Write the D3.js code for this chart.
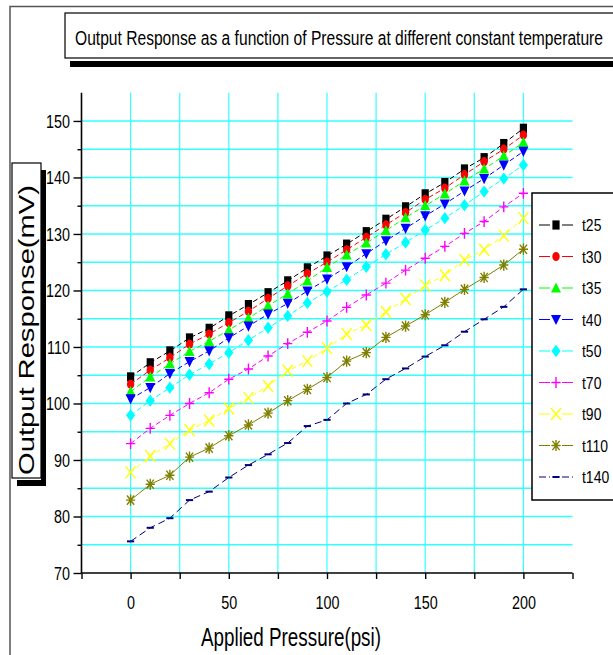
<!DOCTYPE html>
<html>
<head>
<meta charset="utf-8">
<script src="https://cdn.jsdelivr.net/npm/d3@7"></script>
<style>
  body { margin: 0; background: #fff; }
  svg { display: block; }
</style>
</head>
<body>
<div id="chart"></div>
<script>
// Applied pressure (psi)
const pressure = [0, 10, 20, 30, 40, 50, 60, 70, 80, 90, 100, 110, 120, 130, 140, 150, 160, 170, 180, 190, 200];

// Output response (mV) per constant temperature
const seriesNames = ['t25', 't30', 't35', 't40', 't50', 't70', 't90', 't110', 't140'];
const t25  = [104.7, 107.2, 109.3, 111.6, 113.3, 115.5, 117.5, 119.6, 121.7, 124.0, 126.1, 128.2, 130.4, 132.6, 134.8, 137.1, 139.1, 141.5, 143.5, 146.0, 148.7];
const t30  = [103.4, 105.9, 108.1, 110.5, 112.3, 114.3, 116.3, 118.6, 120.8, 123.0, 125.0, 127.2, 129.4, 131.6, 133.8, 136.1, 138.1, 140.5, 142.8, 145.0, 147.5];
const t35  = [102.1, 104.7, 107.0, 109.2, 111.0, 113.0, 115.1, 117.3, 119.4, 121.7, 124.1, 126.3, 128.4, 130.6, 132.9, 135.0, 137.1, 139.4, 141.5, 143.8, 146.2];
const t40  = [100.8, 102.8, 105.3, 107.4, 109.3, 111.6, 113.7, 115.8, 117.7, 119.9, 122.0, 124.2, 126.5, 128.8, 131.0, 133.2, 135.3, 137.6, 139.8, 142.2, 144.6];
const t50  = [97.9, 100.5, 102.8, 105.1, 107.0, 109.0, 111.2, 113.4, 115.5, 117.8, 119.8, 121.9, 124.2, 126.4, 128.5, 130.7, 132.8, 135.1, 137.5, 139.8, 142.2];
const t70  = [92.9, 95.6, 97.9, 100.0, 101.9, 104.3, 106.1, 108.4, 110.6, 112.6, 114.6, 117.0, 119.2, 121.3, 123.6, 125.7, 127.8, 130.1, 132.2, 134.8, 137.2];
const t90  = [87.8, 90.7, 92.9, 95.3, 97.0, 99.1, 101.0, 103.1, 105.8, 107.5, 109.8, 112.3, 113.9, 116.2, 118.5, 120.9, 122.7, 125.4, 127.2, 129.7, 132.8];
const t110 = [82.9, 85.7, 87.3, 90.5, 92.1, 94.3, 96.2, 98.3, 100.5, 102.5, 104.6, 107.5, 109.0, 111.7, 113.7, 115.7, 117.9, 120.2, 122.3, 124.5, 127.3];
const t140 = [75.6, 78.0, 79.7, 82.9, 84.4, 86.9, 89.1, 91.0, 93.0, 96.0, 97.1, 100.0, 101.6, 104.3, 106.2, 108.3, 110.3, 112.7, 114.9, 117.1, 120.2];
const seriesValues = [t25, t30, t35, t40, t50, t70, t90, t110, t140];

// Tick values
const xTickValues = [-25, 0, 25, 50, 75, 100, 125, 150, 175, 200, 225];
const xTickLabels = [0, 50, 100, 150, 200];
const yTickValues = [70, 75, 80, 85, 90, 95, 100, 105, 110, 115, 120, 125, 130, 135, 140, 145, 150];
const yTickLabels = [70, 80, 90, 100, 110, 120, 130, 140, 150];

const title = 'Output Response as a function of Pressure at different constant temperature';
const xTitle = 'Applied Pressure(psi)';
const yTitle = 'Output Response(mV)';

// Style per series (kept apart from the data)
const styles = {
  t25:  { color: '#000000', symbol: 'square',  dash: '5,3' },
  t30:  { color: '#ff0000', symbol: 'circle',  dash: '5,3' },
  t35:  { color: '#00ff00', symbol: 'triUp',   dash: '5,3' },
  t40:  { color: '#0000ff', symbol: 'triDown', dash: '5,3' },
  t50:  { color: '#00ffff', symbol: 'diamond', dash: '5,3' },
  t70:  { color: '#ff00ff', symbol: 'plus',    dash: '5,3' },
  t90:  { color: '#ffff00', symbol: 'cross',   dash: '5,3' },
  t110: { color: '#808000', symbol: 'star',    dash: null },
  t140: { color: '#000080', symbol: 'dash',    dash: '7,4' }
};

const narrow = '"Liberation Sans Narrow", "Arial Narrow", "Liberation Sans", Arial, sans-serif';
const regular = '"Liberation Sans", Arial, sans-serif';

const width = 613, height = 655;
const svg = d3.select('#chart').append('svg')
  .attr('width', width)
  .attr('height', height);

// check whether a narrow face is really there; if not, squeeze the regular one
const probe = svg.append('text').style('font-size', '20px').text('Applied 0123');
const wRegular = probe.style('font-family', regular).node().getComputedTextLength();
const wNarrow = probe.style('font-family', narrow).node().getComputedTextLength();
probe.remove();
const hasNarrow = wNarrow < wRegular * 0.95;

function narrowText(sel) {
  sel.style('font-family', narrow);
  if (!hasNarrow) {
    sel.each(function () {
      const len = this.getComputedTextLength();
      d3.select(this)
        .attr('textLength', len * 0.82)
        .attr('lengthAdjust', 'spacingAndGlyphs');
    });
  }
  return sel;
}

// Outer page frame
svg.append('path')
  .attr('d', 'M10,655V6.5H613')
  .attr('fill', 'none')
  .attr('stroke', '#555')
  .attr('stroke-width', 1.5);

// Scales
const x = d3.scaleLinear().domain([-25, 225]).range([81.5, 572.5]);
const y = d3.scaleLinear().domain([70, 155]).range([573, 92.7]);

// Grid
const grid = svg.append('g');
grid.selectAll('line.h')
  .data(yTickValues.filter(v => v > 70))
  .enter().append('line')
  .attr('class', 'h')
  .attr('x1', x(-25)).attr('x2', x(225))
  .attr('y1', d => y(d)).attr('y2', d => y(d))
  .attr('stroke', '#33ffff')
  .attr('stroke-width', 1.6);
grid.selectAll('line.v')
  .data(xTickValues.filter(v => v > -25 && v < 225))
  .enter().append('line')
  .attr('class', 'v')
  .attr('x1', d => x(d)).attr('x2', d => x(d))
  .attr('y1', y(155)).attr('y2', y(70))
  .attr('stroke', '#33ffff')
  .attr('stroke-width', 1.2);

// Axes
const yAxis = d3.axisLeft(y)
  .tickValues(yTickValues)
  .tickSizeOuter(0)
  .tickSize(0)
  .tickFormat('');
const yAxisG = svg.append('g')
  .attr('transform', `translate(${x(-25)},0)`)
  .call(yAxis);
yAxisG.select('.domain').attr('stroke-width', 1.6)
  .attr('d', `M0,${y(155)}V${y(70)}`);
yAxisG.selectAll('.tick line')
  .attr('x2', d => (d % 10 === 0 ? -8 : -4))
  .attr('stroke-width', 1.4);
yAxisG.selectAll('.tick')
  .filter(d => yTickLabels.includes(d))
  .append('text')
  .attr('x', -11.5)
  .attr('dy', '0.36em')
  .attr('text-anchor', 'end')
  .attr('fill', '#000')
  .style('font-size', '17.5px')
  .text(d => d)
  .call(narrowText);

const xAxis = d3.axisBottom(x)
  .tickValues(xTickValues)
  .tickSizeOuter(0)
  .tickSize(6)
  .tickFormat('');
const xAxisG = svg.append('g')
  .attr('transform', `translate(0,${y(70)})`)
  .call(xAxis);
xAxisG.select('.domain').attr('stroke-width', 1.6)
  .attr('d', `M${x(-25)},0H${x(225)}`);
xAxisG.selectAll('.tick line').attr('stroke-width', 1.4);
xAxisG.selectAll('.tick')
  .filter(d => xTickLabels.includes(d))
  .append('text')
  .attr('y', 36)
  .attr('text-anchor', 'middle')
  .attr('fill', '#000')
  .style('font-size', '17.5px')
  .text(d => d)
  .call(narrowText);

// Symbols
function symbolPath(type) {
  switch (type) {
    case 'square':  return 'M-3.6,-4.6h7.2v9.2h-7.2z';
    case 'circle':  return 'M-3.7,0a3.7,4.6 0 1,0 7.4,0a3.7,4.6 0 1,0 -7.4,0z';
    case 'triUp':   return 'M0,-5.6L5,4.6L-5,4.6Z';
    case 'triDown': return 'M0,5.6L5,-4.6L-5,-4.6Z';
    case 'diamond': return 'M0,-6.2L4.6,0L0,6.2L-4.6,0Z';
    case 'plus':    return 'M-4.6,0H4.6M0,-5.4V5.4';
    case 'cross':   return 'M-5,-6L5,6M5,-6L-5,6';
    case 'star':    return 'M-4.6,0H4.6M0,-5.6V5.6M-3.6,-4.6L3.6,4.6M3.6,-4.6L-3.6,4.6';
    case 'dash':    return 'M-3.6,0H3.6';
  }
}
const filled = s => ['square', 'circle', 'triUp', 'triDown', 'diamond'].includes(s);

function drawSymbol(g, st) {
  const p = g.append('path').attr('d', symbolPath(st.symbol));
  if (filled(st.symbol)) {
    p.attr('fill', st.color).attr('stroke', 'none');
  } else {
    p.attr('fill', 'none').attr('stroke', st.color)
      .attr('stroke-width', st.symbol === 'dash' ? 2 : 1.4);
  }
}

// Series
const line = d3.line().x(d => x(d[0])).y(d => y(d[1]));
const plot = svg.append('g');
seriesNames.forEach((name, i) => {
  const st = styles[name];
  const pts = pressure.map((p, j) => [p, seriesValues[i][j]]);
  const g = plot.append('g');
  g.append('path')
    .datum(pts)
    .attr('d', line)
    .attr('fill', 'none')
    .attr('stroke', st.color)
    .attr('stroke-width', 1)
    .attr('stroke-dasharray', st.dash);
  g.selectAll('g.pt')
    .data(pts)
    .enter().append('g')
    .attr('class', 'pt')
    .attr('transform', d => `translate(${x(d[0])},${y(d[1])})`)
    .each(function () { drawSymbol(d3.select(this), st); });
});

// Legend
const legend = svg.append('g');
legend.append('rect')
  .attr('x', 532).attr('y', 193)
  .attr('width', 120).attr('height', 307)
  .attr('fill', '#fff')
  .attr('stroke', '#000')
  .attr('stroke-width', 1.5);
seriesNames.forEach((name, i) => {
  const st = styles[name];
  const ly = 225 + i * 31.5;
  const item = legend.append('g').attr('transform', `translate(556,${ly})`);
  item.append('path')
    .attr('d', 'M-17,0H-6M6,0H17')
    .attr('stroke', st.color)
    .attr('stroke-width', 1.2)
    .attr('stroke-dasharray', name === 't140' ? '7,3' : null);
  drawSymbol(item, st);
  item.append('text')
    .attr('x', 26)
    .attr('dy', '0.36em')
    .style('font-size', '17px')
    .text(name)
    .call(narrowText);
});

// Title box
svg.append('rect')
  .attr('x', 70).attr('y', 61)
  .attr('width', 560).attr('height', 6)
  .attr('fill', '#000');
svg.append('rect')
  .attr('x', 65).attr('y', 13)
  .attr('width', 560).attr('height', 45)
  .attr('fill', '#fff')
  .attr('stroke', '#000')
  .attr('stroke-width', 1.2);
svg.append('text')
  .attr('x', 75).attr('y', 45)
  .attr('textLength', 528)
  .attr('lengthAdjust', 'spacingAndGlyphs')
  .style('font-family', narrow)
  .style('font-size', '20px')
  .text(title);

// Y title box
svg.append('rect')
  .attr('x', 41).attr('y', 170)
  .attr('width', 5).attr('height', 316)
  .attr('fill', '#000');
svg.append('rect')
  .attr('x', 17).attr('y', 480)
  .attr('width', 29).attr('height', 6)
  .attr('fill', '#000');
svg.append('rect')
  .attr('x', 12).attr('y', 163)
  .attr('width', 29).attr('height', 315)
  .attr('fill', '#fff')
  .attr('stroke', '#000')
  .attr('stroke-width', 1.2);
svg.append('text')
  .attr('transform', 'translate(34,330) rotate(-90)')
  .attr('text-anchor', 'middle')
  .attr('textLength', 290)
  .attr('lengthAdjust', 'spacingAndGlyphs')
  .style('font-family', regular)
  .style('font-size', '22px')
  .text(yTitle);

// X title
svg.append('text')
  .attr('x', 201).attr('y', 646)
  .attr('textLength', 180)
  .attr('lengthAdjust', 'spacingAndGlyphs')
  .style('font-family', narrow)
  .style('font-size', '25px')
  .text(xTitle);
</script>
</body>
</html>
